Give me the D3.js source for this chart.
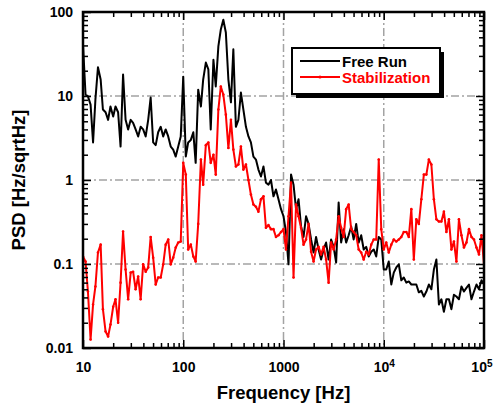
<!DOCTYPE html>
<html>
<head>
<meta charset="utf-8">
<script src="https://cdn.jsdelivr.net/npm/d3@7"></script>
<style>
  body { margin: 0; background: #fff; }
  svg { display: block; font-family: "Liberation Sans", Arial, sans-serif; font-weight: bold; }
</style>
</head>
<body>
<svg id="chart" width="493" height="410"></svg>
<script>
// frequency bins [Hz]
const freq = [
  10, 10.6, 11.2, 11.9, 12.6, 13.3, 14.1, 15, 15.8, 16.8, 17.8, 18.8, 20, 21.1, 22.4, 23.7, 25.1, 26.6, 28.2, 29.9,
  31.6, 33.5, 35.5, 37.6, 39.8, 42.2, 44.7, 47.3, 50.1, 53.1, 56.2, 59.6, 63.1, 66.8, 70.8, 75, 79.4, 84.1, 89.1, 94.4,
  100, 106, 112, 119, 126, 133, 141, 150, 158, 168, 178, 188, 200, 211, 224, 237, 251, 266, 282, 299,
  316, 335, 355, 376, 398, 422, 447, 473, 501, 531, 562, 596, 631, 668, 708, 750, 794, 841, 891, 944,
  1000, 1059, 1122, 1189, 1259, 1334, 1413, 1496, 1585, 1679, 1778, 1884, 1995, 2113, 2239, 2371, 2512, 2661, 2818, 2985,
  3162, 3350, 3548, 3758, 3981, 4217, 4467, 4732, 5012, 5309, 5623, 5957, 6310, 6683, 7079, 7499, 7943, 8414, 8913, 9441,
  10000, 10590, 11220, 11890, 12590, 13340, 14130, 14960, 15850, 16790, 17780, 18840, 19950, 21130, 22390, 23710, 25120, 26610, 28180, 29850,
  31620, 33500, 35480, 37580, 39810, 42170, 44670, 47320, 50120, 53090, 56230, 59570, 63100, 66830, 70790, 74990, 79430, 84140, 89130, 94410,
  100000
]

// PSD [Hz/sqrtHz], free running laser
const freeRun = [
  41, 10.4, 9.9, 7.9, 2.8, 9.1, 22, 15.7, 6.9, 6.4, 5.2, 7.5, 5.7, 7.5, 6.4, 2.5, 18, 5.2, 4.0, 5.2,
  4.8, 4.0, 3.3, 4.3, 4.0, 3.3, 5.2, 9.6, 2.8, 2.6, 3.7, 4.3, 3.3, 4.0, 3.3, 2.5, 2.3, 1.9, 2.5, 3.3,
  17, 1.9, 2.8, 3.0, 3.7, 1.6, 11.9, 7.5, 15.7, 25, 20.7, 4.0, 27, 13, 39, 62, 81, 57, 15.7, 8.4,
  36, 4.3, 5.2, 11, 6.9, 4.3, 3.3, 2.8, 1.9, 1.75, 1.33, 1.1, 1.45, 0.93, 0.88, 1.0, 0.64, 0.77, 0.59, 0.45,
  0.37, 0.24, 0.099, 1.16, 0.88, 0.45, 0.59, 0.28, 0.21, 0.37, 0.30, 0.196, 0.137, 0.21, 0.149, 0.113, 0.149, 0.18, 0.113, 0.196,
  0.16, 0.104, 0.54, 0.18, 0.26, 0.18, 0.22, 0.28, 0.196, 0.30, 0.18, 0.22, 0.149, 0.16, 0.123, 0.14, 0.149, 0.123, 0.21, 0.196,
  0.086, 0.086, 0.107, 0.057, 0.079, 0.091, 0.099, 0.064, 0.069, 0.060, 0.062, 0.057, 0.057, 0.057, 0.046, 0.048, 0.041, 0.047, 0.057, 0.050,
  0.086, 0.113, 0.033, 0.038, 0.027, 0.038, 0.038, 0.029, 0.043, 0.041, 0.038, 0.054, 0.047, 0.052, 0.057, 0.038, 0.047, 0.057, 0.050, 0.064,
  0.057
]

// PSD [Hz/sqrtHz], with stabilization loop
const stabilization = [
  0.123, 0.107, 0.047, 0.0126, 0.033, 0.054, 0.137, 0.17, 0.029, 0.0157, 0.0137, 0.019, 0.031, 0.038, 0.020, 0.060, 0.244, 0.086, 0.038, 0.079,
  0.081, 0.050, 0.071, 0.038, 0.099, 0.081, 0.091, 0.21, 0.119, 0.057, 0.069, 0.069, 0.099, 0.17, 0.196, 0.099, 0.119, 0.157, 0.18, 0.185,
  1.6, 1.16, 0.149, 0.17, 0.123, 0.107, 0.30, 1.75, 0.88, 2.6, 2.8, 1.6, 2.0, 1.16, 6.9, 13, 10.4, 6.0, 2.4, 5.2,
  2.3, 1.45, 1.53, 2.5, 1.33, 1.53, 1.0, 0.67, 0.51, 0.48, 0.42, 0.59, 0.64, 0.27, 0.29, 0.26, 0.26, 0.21, 0.22, 0.24,
  0.26, 0.149, 0.37, 0.93, 0.069, 0.51, 0.37, 0.27, 0.17, 0.196, 0.30, 0.14, 0.107, 0.149, 0.16, 0.13, 0.16, 0.113, 0.060, 0.18,
  0.149, 0.196, 0.37, 0.27, 0.21, 0.45, 0.51, 0.26, 0.24, 0.22, 0.149, 0.137, 0.113, 0.14, 0.13, 0.17, 0.196, 0.196, 1.75, 0.26,
  0.149, 0.18, 0.137, 0.17, 0.196, 0.185, 0.196, 0.21, 0.24, 0.24, 0.21, 0.45, 0.113, 0.34, 0.30, 0.59, 1.16, 1.16, 1.75, 1.53,
  0.59, 0.34, 0.32, 0.32, 0.42, 0.24, 0.34, 0.149, 0.185, 0.107, 0.34, 0.22, 0.157, 0.18, 0.26, 0.21, 0.196, 0.157, 0.13, 0.22,
  0.099
]

const xMajor = [10, 100, 1000, 1e4, 1e5]
const yMajor = [0.01, 0.1, 1, 10, 100]
const xTickLabels = ['10', '100', '1000', '10|4', '10|5']
const yTickLabels = ['0.01', '0.1', '1', '10', '100']
const seriesNames = ['Free Run', 'Stabilization']
const seriesColors = ['#000000', '#ff0000']

function drawChart() {
  const svg = d3.select('#chart')
  const margin = { left: 83, right: 9, top: 12, bottom: 62 }
  const width = 493 - margin.left - margin.right
  const height = 410 - margin.top - margin.bottom

  const x = d3.scaleLog().domain([10, 1e5]).range([0, width])
  const y = d3.scaleLog().domain([0.01, 100]).range([height, 0])

  svg.append('defs').append('clipPath').attr('id', 'clip')
    .append('rect').attr('width', width).attr('height', height)

  const g = svg.append('g')
    .attr('transform', `translate(${margin.left},${margin.top})`)

  // dash-dot grid at the inner decades
  const grid = g.append('g').attr('stroke', '#a3a3a3').attr('stroke-width', 1.5)
    .attr('stroke-dasharray', '8,3,2,3')
  grid.selectAll('.gx').data(xMajor.slice(1, -1)).join('line')
    .attr('x1', d => x(d)).attr('x2', d => x(d)).attr('y1', 0).attr('y2', height)
  grid.selectAll('.gy').data(yMajor.slice(1, -1)).join('line')
    .attr('y1', d => y(d)).attr('y2', d => y(d)).attr('x1', 0).attr('x2', width)

  const xMinor = x.ticks().filter(d => !xMajor.includes(d))
  const yMinor = y.ticks().filter(d => !yMajor.some(m => Math.abs(m - d) / m < 1e-9))

  // series
  const line = d3.line().x(d => x(d[0])).y(d => y(d[1]))
  const plot = g.append('g').attr('clip-path', 'url(#clip)')
  const freeData = d3.zip(freq, freeRun)
  const stabData = d3.zip(freq, stabilization)

  plot.append('path').datum(freeData)
    .attr('d', line).attr('fill', 'none')
    .attr('stroke', seriesColors[0]).attr('stroke-width', 2)
    .attr('stroke-linejoin', 'round')

  plot.append('path').datum(stabData)
    .attr('d', line).attr('fill', 'none')
    .attr('stroke', seriesColors[1]).attr('stroke-width', 2)
    .attr('stroke-linejoin', 'round')
  plot.selectAll('.mk').data(stabData).join('circle')
    .attr('cx', d => x(d[0])).attr('cy', d => y(d[1])).attr('r', 1.3)
    .attr('fill', seriesColors[1])

  // axes, ticks pointing inward on all four sides
  function addAxis(axisFn, scale, values, size, transform, labels) {
    const a = axisFn(scale).tickValues(values).tickSizeInner(-size).tickSizeOuter(0)
      .tickPadding(axisFn === d3.axisBottom ? 14 : 10)
      .tickFormat(labels ? (d, i) => labels[i] : '')
    const sel = g.append('g').attr('transform', transform).call(a)
    sel.select('.domain').remove()
    sel.selectAll('.tick line').attr('stroke', '#000').attr('stroke-width', 1.5)
    sel.selectAll('text').attr('font-size', 14).attr('font-weight', 'bold')
      .attr('font-family', '"Liberation Sans", Arial, sans-serif').attr('fill', '#000')
    return sel
  }

  const bottomMajor = addAxis(d3.axisBottom, x, xMajor, 8, `translate(0,${height})`, xTickLabels)
  addAxis(d3.axisBottom, x, xMinor, 5, `translate(0,${height})`)
  addAxis(d3.axisTop, x, xMajor, 8, 'translate(0,0)')
  addAxis(d3.axisTop, x, xMinor, 5, 'translate(0,0)')
  addAxis(d3.axisLeft, y, yMajor, 8, 'translate(0,0)', yTickLabels)
  addAxis(d3.axisLeft, y, yMinor, 5, 'translate(0,0)')
  addAxis(d3.axisRight, y, yMajor, 8, `translate(${width},0)`)
  addAxis(d3.axisRight, y, yMinor, 5, `translate(${width},0)`)

  // superscript labels like 10^4; the last one is kept inside the page edge
  bottomMajor.selectAll('text').each(function(d) {
    const t = d3.select(this)
    const parts = t.text().split('|')
    if (parts.length < 2) return
    t.text(null)
    t.append('tspan').text(parts[0])
    t.append('tspan').attr('dy', '-0.45em').attr('font-size', 10).text(parts[1])
    if (d === xMajor[xMajor.length - 1]) {
      t.attr('text-anchor', 'end').attr('x', 493 - margin.left - x(d) - 1)
    }
  })

  // frame
  g.append('rect').attr('width', width).attr('height', height)
    .attr('fill', 'none').attr('stroke', '#000').attr('stroke-width', 2.5)

  // axis titles
  svg.append('text')
    .attr('x', margin.left + width / 2).attr('y', 399)
    .attr('text-anchor', 'middle').attr('font-size', 18.5)
    .text('Frequency [Hz]')
  svg.append('text')
    .attr('transform', `translate(25,${margin.top + height / 2}) rotate(-90)`)
    .attr('text-anchor', 'middle').attr('font-size', 18.5)
    .text('PSD [Hz/sqrtHz]')

  // legend with drop shadow
  const lg = svg.append('g').attr('transform', 'translate(292,48)')
  lg.append('rect').attr('x', 4).attr('y', 4).attr('width', 148).attr('height', 46).attr('fill', '#000')
  lg.append('rect').attr('width', 148).attr('height', 46)
    .attr('fill', '#fff').attr('stroke', '#000').attr('stroke-width', 2)
  seriesNames.forEach((name, i) => {
    const ly = 13 + i * 16
    lg.append('line').attr('x1', 8).attr('x2', 48).attr('y1', ly).attr('y2', ly)
      .attr('stroke', seriesColors[i]).attr('stroke-width', 1.8)
    if (i === 1) {
      lg.append('circle').attr('cx', 28).attr('cy', ly).attr('r', 1.6).attr('fill', seriesColors[i])
    }
    lg.append('text').attr('x', 50).attr('y', ly + 6)
      .attr('font-size', 15).attr('fill', seriesColors[i]).text(name)
  })
}

drawChart()
</script>
</body>
</html>
